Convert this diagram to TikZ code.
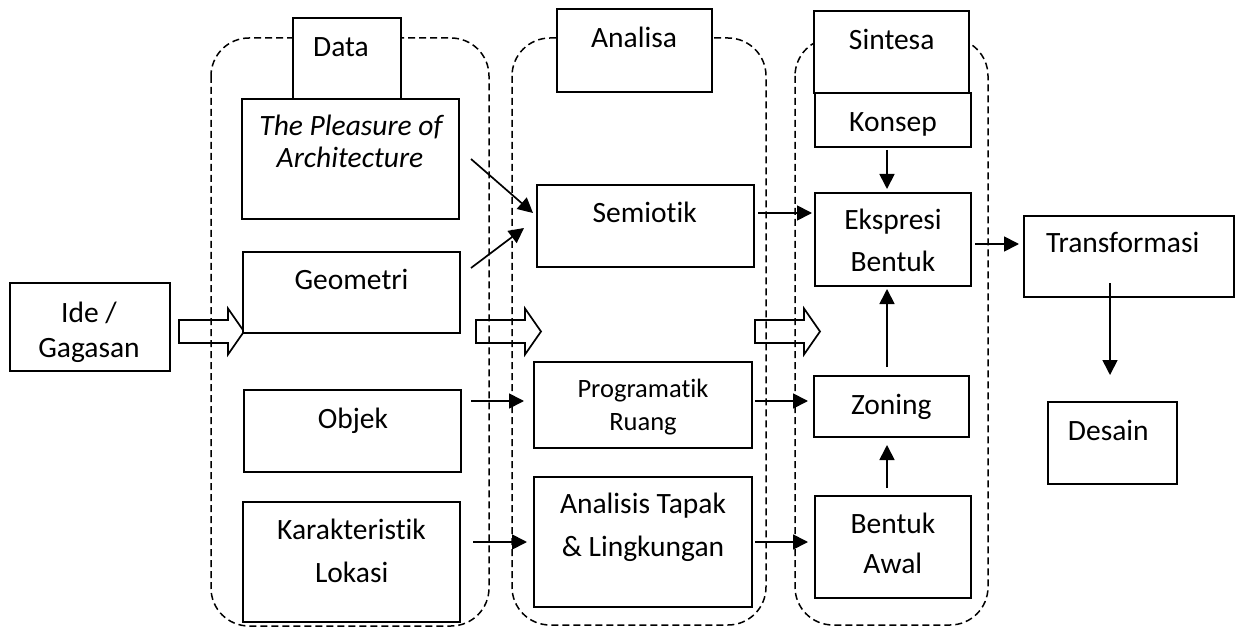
\documentclass[tikz,border=0pt]{standalone}
\usepackage{fontspec}
\setmainfont[Ligatures=NoCommon]{Carlito}
\usetikzlibrary{arrows.meta,calc}
\begin{document}
\begin{tikzpicture}[x=1pt,y=-1pt,
  box/.style={draw,line width=1.8pt,fill=white,inner sep=0pt,outer sep=0pt},
  cont/.style={draw,dash pattern=on 7pt off 4pt,line width=1.5pt,rounded corners=38pt},
  arr/.style={line width=1.7pt,-{Triangle[length=15pt,width=15pt]}},
  txt/.style={anchor=base,inner sep=0pt,font=\fontsize{29.5}{35}\selectfont},
  stxt/.style={anchor=base,inner sep=0pt,font=\fontsize{26.5}{31}\selectfont},
  blockarrow/.pic={\draw[line width=1.7pt,line join=miter] (0,-11.5) -- (49,-11.5) -- (49,-23) -- (65,0) -- (49,23) -- (49,11.5) -- (0,11.5) -- cycle;}]
\useasboundingbox (0,0) rectangle (1236,628);

% dashed containers
\draw[cont] (211,38) rectangle (489,626);
\draw[cont] (512,38) rectangle (766,625);
\draw[cont] (795,38) rectangle (988,625);

% block arrows
\pic at (179,331.5) {blockarrow};
\pic at (476,331.5) {blockarrow};
\pic at (755,331.5) {blockarrow};

% boxes
\node[box,minimum width=160pt,minimum height=88pt] (ide) at (90,327) {};
\node[box,minimum width=108pt,minimum height=81pt] (data) at (347,58.5) {};
\node[box,minimum width=217pt,minimum height=120pt] (pleasure) at (350.5,159) {};
\node[box,minimum width=217pt,minimum height=81pt] (geometri) at (351.5,292.5) {};
\node[box,minimum width=217pt,minimum height=82pt] (objek) at (352.5,431) {};
\node[box,minimum width=217pt,minimum height=120pt] (karak) at (351.5,562) {};
\node[box,minimum width=155pt,minimum height=83pt] (analisa) at (634.5,50.5) {};
\node[box,minimum width=217pt,minimum height=82pt] (semiotik) at (645.5,226) {};
\node[box,minimum width=218pt,minimum height=86pt] (program) at (643,405) {};
\node[box,minimum width=218pt,minimum height=130pt] (tapak) at (643,542) {};
\node[box,minimum width=155pt,minimum height=82pt] (sintesa) at (891.5,52) {};
\node[box,minimum width=156pt,minimum height=54pt] (konsep) at (893,120) {};
\node[box,minimum width=156pt,minimum height=93pt] (ekspresi) at (893,239.5) {};
\node[box,minimum width=155pt,minimum height=61pt] (zoning) at (891.5,406.5) {};
\node[box,minimum width=156pt,minimum height=102pt] (bentuk) at (893,547) {};
\node[box,minimum width=210pt,minimum height=81pt] (trans) at (1129,256.5) {};
\node[box,minimum width=129pt,minimum height=82pt] (desain) at (1112.5,443) {};

% texts
\node[txt] (t1) at (89,322) {Ide /};
\node[txt] (t2) at (89,357) {Gagasan};
\node[txt] (t3) at (341,57) {Data};
\node[txt] (t4) at (351,136) {\itshape The Pleasure of};
\node[txt] (t5) at (350,168) {\itshape Architecture};
\node[txt] (t6) at (351.5,290) {Geometri};
\node[txt] (t7) at (353,428) {Objek};
\node[txt] (t8) at (351.5,539) {Karakteristik};
\node[txt] (t9) at (351.7,582) {Lokasi};
\node[txt] (t10) at (634,48) {Analisa};
\node[txt] (t11) at (644.7,223) {Semiotik};
\node[stxt] (t12) at (643,397) {Programatik};
\node[stxt] (t13) at (643,430) {Ruang};
\node[txt] (t14) at (643,513.3) {Analisis Tapak};
\node[txt] (t15) at (643,556.7) {\& Lingkungan};
\node[txt] (t16) at (891.7,50) {Sintesa};
\node[txt] (t17) at (893,131.7) {Konsep};
\node[txt] (t18) at (893,230) {Ekspresi};
\node[txt] (t19) at (893,271.7) {Bentuk};
\node[txt] (t20) at (891.3,414) {Zoning};
\node[txt] (t21) at (893,533) {Bentuk};
\node[txt] (t22) at (892.8,573) {Awal};
\node[txt] (t23) at (1122.7,253) {Transformasi};
\node[txt] (t24) at (1108.3,440) {Desain};

% connectors
\draw[arr] ($(pleasure.east)+(12,0)$) -- ($(semiotik.west)+(-4,-13)$);
\draw[arr] ($(geometri.east)+(11,-24.5)$) -- ($(semiotik.west)+(-13,2)$);
\draw[arr] ($(semiotik.east)+(4,-13)$) -- ($(ekspresi.west)+(-3,-26.5)$);
\draw[arr] ($(konsep.south)+(-6,3)$) -- ($(ekspresi.north)+(-6,-4)$);
\draw[arr] ($(zoning.north)+(-4.5,-9)$) -- ($(ekspresi.south)+(-6,3)$);
\draw[arr] ($(bentuk.north)+(-6,-8)$) -- ($(zoning.south)+(-4.5,8)$);
\draw[arr] ($(objek.east)+(10,-30)$) -- ($(program.west)+(-10,-4)$);
\draw[arr] ($(program.east)+(3,-4)$) -- ($(zoning.west)+(-6,-5.5)$);
\draw[arr] ($(karak.east)+(13,-20)$) -- ($(tapak.west)+(-7,0)$);
\draw[arr] ($(tapak.east)+(3,0)$) -- ($(bentuk.west)+(-7,-5)$);
\draw[arr] ($(ekspresi.east)+(4,4.5)$) -- ($(trans.west)+(-5,-12.5)$);
\draw[arr] ($(trans.south)+(-19,-14)$) -- ($(desain.north)+(-2.5,-27)$);
\end{tikzpicture}
\end{document}
